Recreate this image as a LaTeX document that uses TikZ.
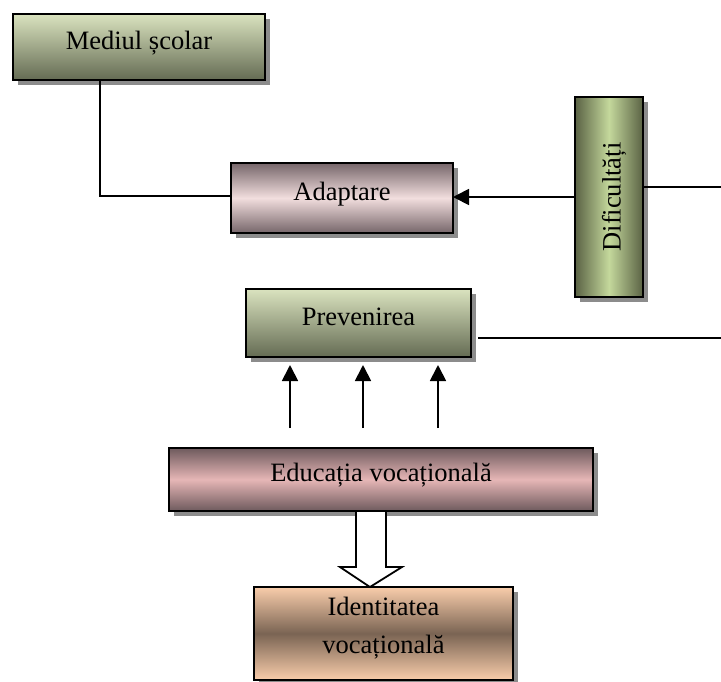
\documentclass[tikz,border=0pt]{standalone}
\usepackage{graphicx}
\usepackage{fontspec}
\setmainfont{Liberation Serif}
\usetikzlibrary{shadows,arrows.meta}
\definecolor{greenlt}{HTML}{DAE3BF}
\definecolor{greendk}{HTML}{646B53}
\definecolor{adadk}{HTML}{76666A}
\definecolor{adalt}{HTML}{F2DEDE}
\definecolor{edudk}{HTML}{6E5A5D}
\definecolor{edult}{HTML}{E6B6B6}
\definecolor{idlt}{HTML}{F9CDAB}
\definecolor{iddk}{HTML}{7A6453}
\definecolor{difdk}{HTML}{5A6244}
\definecolor{diflt}{HTML}{C4D89C}
\definecolor{shadowgray}{HTML}{8C8C8C}
\begin{document}
\begin{tikzpicture}[x=1pt,y=-1pt,
  txt/.style={font=\fontsize{26.5}{31}\selectfont},
  box/.style={txt, draw=black, line width=2pt, inner sep=0pt, outer sep=0pt,
    general shadow={fill=shadowgray, shadow xshift=5pt, shadow yshift=-5pt}},
  oneline/.style={text height=18pt, text depth=14pt},
  conn/.style={line width=1.8pt},
  tip/.style={conn, -{Triangle[width=16pt,length=16pt]}}]
\useasboundingbox[fill=white] (0,0) rectangle (721,681);

% boxes
\node[box, oneline, minimum width=252pt, minimum height=66pt,
  top color=greenlt, bottom color=greendk] (med) at (139,47) {Mediul școlar};
\node[box, oneline, minimum width=222pt, minimum height=70pt,
  top color=adadk, bottom color=adadk, middle color=adalt] (ada) at (342,198) {Adaptare};
\node[box, minimum width=68pt, minimum height=200pt,
  left color=difdk, right color=difdk, middle color=diflt] (dif) at (609,197)
  {\rotatebox{90}{\raisebox{0pt}[27pt][4pt]{Dificultăți}}};
\node[box, oneline, minimum width=225pt, minimum height=68pt,
  top color=greenlt, bottom color=greendk] (pre) at (358.5,323) {Prevenirea};
\node[box, oneline, minimum width=424pt, minimum height=63pt,
  top color=edudk, bottom color=edudk, middle color=edult] (edu) at (381,479.5) {Educația vocațională};
\node[box, minimum width=259pt, minimum height=93pt,
  top color=idlt, bottom color=idlt, middle color=iddk] (ide) at (383.5,633.5) {};
\node[txt, anchor=base, inner sep=0pt] (ide1) at (383.5,615) {Identitatea};
\node[txt, anchor=base, inner sep=0pt] (ide2) at (383.5,653) {vocațională};

% connectors
\draw[conn] ([xshift=87pt]med.south west) |- ([yshift=2pt]ada.west);
\draw[tip] (dif.west) -- (dif.west -| ada.east);
\coordinate (dout) at (721,187);
\draw[conn] (dif.east |- dout) -- (dout);
\coordinate (pout) at (721,338);
\draw[conn] ([xshift=7pt]pre.east |- pout) -- (pout);

\coordinate (u1) at (290,428);
\coordinate (u2) at (363,428);
\coordinate (u3) at (438,428);
\draw[tip, shorten >=8pt] (u1) -- (u1 |- pre.south);
\draw[tip, shorten >=8pt] (u2) -- (u2 |- pre.south);
\draw[tip, shorten >=8pt] (u3) -- (u3 |- pre.south);

% hollow block arrow
\draw[conn, fill=white] ([xshift=-25pt]edu.south) -- ++(0,56) -- ++(-16,0)
  -- ++(30,20) -- ++(32,-20) -- ++(-16,0) -- ++(0,-56) -- cycle;
\end{tikzpicture}
\end{document}
